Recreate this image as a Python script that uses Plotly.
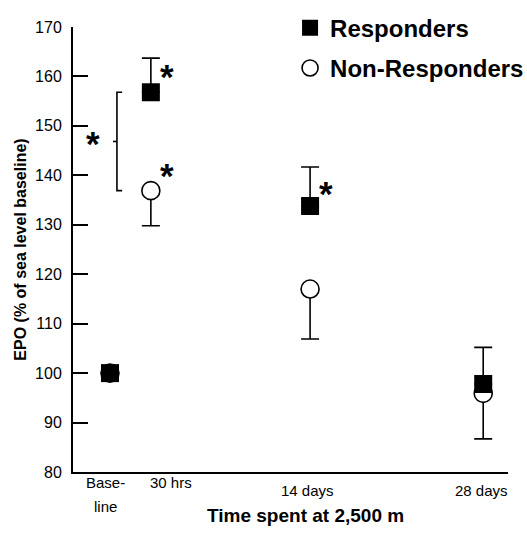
import plotly.graph_objects as go

# ---- data ----
timepoints = ["Baseline", "30 hrs", "14 days", "28 days"]
x_pos = [0.85, 1.79, 5.45, 9.43]          # horizontal position of each time point on the axis
resp_vals = [100, 156.8, 133.8, 97.8]
resp_err_up = [0, 6.9, 7.9, 7.4]
nonresp_vals = [100, 136.9, 117.0, 95.9]
nonresp_err_down = [0, 7.1, 10.1, 9.2]

tick_label_x = [0.74, 2.25, 5.38, 9.40]
tick_labels = ["Base-<br>line", "30 hrs", "14 days", "28 days"]
y_ticks = [80, 90, 100, 110, 120, 130, 140, 150, 160, 170]

FONT = "Liberation Sans, Arial, sans-serif"

fig = go.Figure()

fig.add_trace(go.Scatter(
    x=x_pos, y=nonresp_vals, mode="markers", name="Non-Responders",
    legendrank=2, legendgroup="non",
    marker=dict(symbol="circle", size=18, color="white",
                line=dict(color="black", width=1.6)),
    error_y=dict(type="data", symmetric=False, array=[0]*4,
                 arrayminus=nonresp_err_down, color="black",
                 thickness=1.6, width=9),
))
fig.add_trace(go.Scatter(
    x=x_pos, y=resp_vals, mode="markers", name="Responders",
    legendrank=1, legendgroup="resp",
    marker=dict(symbol="square", size=18, color="black",
                line=dict(color="black", width=0)),
    error_y=dict(type="data", symmetric=False, array=resp_err_up,
                 arrayminus=[0]*4, color="black",
                 thickness=1.6, width=9),
))

# significance bracket between responders and non-responders at 30 hrs
bx = 1.01
fig.add_shape(type="path",
              path=f"M {bx+0.12},{resp_vals[1]} L {bx},{resp_vals[1]} "
                   f"L {bx},{nonresp_vals[1]} L {bx+0.12},{nonresp_vals[1]}",
              xref="x", yref="y", line=dict(color="black", width=1.6))
mid = (resp_vals[1] + nonresp_vals[1]) / 2
fig.add_shape(type="line", x0=bx - 0.09, x1=bx, y0=mid, y1=mid,
              xref="x", yref="y", line=dict(color="black", width=1.6))

# asterisks
stars = [(2.16, 160.5), (2.16, 140.5), (0.46, 147.0), (5.82, 137.0)]
for sx, sy in stars:
    fig.add_annotation(x=sx, y=sy, text="*", showarrow=False, yshift=-3,
                       font=dict(family=FONT, size=35, color="black", weight="bold"))

# x tick labels
lab_font = dict(family=FONT, size=15, color="black")
for lx, lt in zip(tick_label_x, tick_labels):
    if "<br>" in lt:
        a, b = lt.split("<br>")
        fig.add_annotation(x=lx, y=0, yref="paper", text=a, showarrow=False,
                           yanchor="middle", xanchor="center", yshift=-10, font=lab_font)
        fig.add_annotation(x=lx, y=0, yref="paper", text=b, showarrow=False,
                           yanchor="middle", xanchor="center", yshift=-34, font=lab_font)
    elif lt == "30 hrs":
        fig.add_annotation(x=lx, y=0, yref="paper", text=lt, showarrow=False,
                           yanchor="middle", xanchor="center", yshift=-10, font=lab_font)
    else:
        fig.add_annotation(x=lx, y=0, yref="paper", text=lt, showarrow=False,
                           yanchor="middle", xanchor="center", yshift=-18, font=lab_font)

# x axis title
fig.add_annotation(x=0.535, y=0, xref="paper", yref="paper",
                   text="Time spent at 2,500 m", showarrow=False, yshift=-43,
                   yanchor="middle", xanchor="center",
                   font=dict(family=FONT, size=19, color="black", weight="bold"))

fig.update_layout(
    width=527, height=535,
    margin=dict(l=73, r=19, t=27, b=63, autoexpand=False),
    paper_bgcolor="white", plot_bgcolor="white",
    font=dict(family=FONT, color="black"),
    showlegend=True,
    legend=dict(x=0.499, y=1.048, xanchor="left", yanchor="top",
                bgcolor="rgba(0,0,0,0)", tracegroupgap=6,
                font=dict(family=FONT, size=24, color="black", weight="bold")),
    xaxis=dict(range=[0, 10], showgrid=False, zeroline=False,
               showline=True, linecolor="black", linewidth=2,
               showticklabels=False, ticks="", automargin=False),
    yaxis=dict(range=[80, 170], tickvals=y_ticks, showgrid=False, zeroline=False,
               showline=True, linecolor="black", linewidth=2,
               ticks="inside", ticklen=15, tickwidth=1.6, tickcolor="black",
               ticklabelstandoff=6, automargin=False,
               tickfont=dict(family=FONT, size=16, color="black"),
               title=dict(text="EPO (% of sea level baseline)", standoff=4,
                          font=dict(family=FONT, size=16, color="black", weight="bold"))),
)

fig.write_html("out.html", config={"displayModeBar": False},
               post_script="document.body.style.margin='0';document.body.style.padding='0';")
